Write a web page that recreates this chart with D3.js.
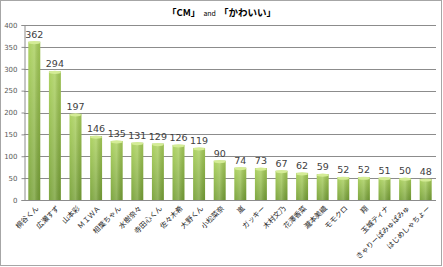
<!DOCTYPE html>
<html>
<head>
<meta charset="utf-8">
<script src="https://cdn.jsdelivr.net/npm/d3@7"></script>
<style>
  body { margin: 0; background: #fff; }
  svg { display: block; font-family: "Noto Sans CJK JP", "DejaVu Sans", sans-serif; }
</style>
</head>
<body>
<div id="chart"></div>
<script>
// data
const names = ['桐谷くん', '広瀬すず', '山本彩', 'ＭＩＷＡ', '相葉ちゃん', '水樹奈々', '寺田心くん',
  '佐々木希', '大野くん', '小松菜奈', '嵐', 'ガッキー', '木村文乃', '花澤香菜', '瀧本美織',
  'モモクロ', '翔', '玉城ティナ', 'きゃりーぱみゅぱみゅ', 'はじめしゃちょー'];
const counts = [362, 294, 197, 146, 135, 131, 129, 126, 119, 90, 74, 73, 67, 62, 59, 52, 52, 51, 50, 48];
const yTicks = [0, 50, 100, 150, 200, 250, 300, 350, 400];

const W = 443, H = 267;
const m = { top: 25, right: 7, bottom: 67, left: 24 };

const svg = d3.select('#chart').append('svg').attr('width', W).attr('height', H);

// outer frame
svg.append('rect').attr('x', 0.5).attr('y', 0.5).attr('width', W - 2).attr('height', H - 2)
  .attr('fill', '#fff').attr('stroke', '#a6a6a6');

const defs = svg.append('defs');
const grad = defs.append('linearGradient').attr('id', 'bar').attr('x1', 0).attr('x2', 0).attr('y1', 0).attr('y2', 1);
grad.append('stop').attr('offset', '0%').attr('stop-color', '#a9d05a');
grad.append('stop').attr('offset', '100%').attr('stop-color', '#76a036');
const side = defs.append('linearGradient').attr('id', 'side').attr('x1', 0).attr('x2', 1);
side.append('stop').attr('offset', '0%').attr('stop-color', '#fff').attr('stop-opacity', 0.05);
side.append('stop').attr('offset', '50%').attr('stop-color', '#fff').attr('stop-opacity', 0.2);
side.append('stop').attr('offset', '100%').attr('stop-color', '#000').attr('stop-opacity', 0.08);

const x = d3.scaleBand().domain(names).range([m.left, W - m.right]).paddingInner(0.42).paddingOuter(0.21);
const y = d3.scaleLinear().domain([0, 400]).range([H - m.bottom, m.top]);

// grid
svg.append('g').selectAll('line').data(yTicks.filter(d => d > 0)).join('line')
  .attr('x1', m.left).attr('x2', W - m.right)
  .attr('y1', d => Math.round(y(d)) + 0.5).attr('y2', d => Math.round(y(d)) + 0.5)
  .attr('stroke', '#8c8c8c');

// y axis
const yAxis = svg.append('g').attr('transform', `translate(${m.left + 0.5},0)`)
  .call(d3.axisLeft(y).tickValues(yTicks).tickSize(3).tickPadding(4));
yAxis.select('.domain').attr('stroke', '#8c8c8c');
yAxis.selectAll('.tick line').attr('stroke', '#8c8c8c');
yAxis.selectAll('text').attr('font-size', 7).attr('fill', '#595959').attr('font-family', 'DejaVu Sans');

// bars
const bars = svg.append('g').selectAll('g').data(names).join('g');
bars.append('rect')
  .attr('x', d => x(d)).attr('width', x.bandwidth())
  .attr('y', (d, i) => y(counts[i])).attr('height', (d, i) => y(0) - y(counts[i]))
  .attr('fill', 'url(#bar)');
bars.append('rect')
  .attr('x', d => x(d)).attr('width', x.bandwidth())
  .attr('y', (d, i) => y(counts[i])).attr('height', (d, i) => y(0) - y(counts[i]))
  .attr('fill', 'url(#side)');
bars.append('ellipse')
  .attr('cx', d => x(d) + x.bandwidth() / 2).attr('rx', x.bandwidth() / 2)
  .attr('cy', (d, i) => y(counts[i]) + 1).attr('ry', 1.6)
  .attr('fill', '#d4ec96');

// x axis line
svg.append('line').attr('x1', m.left).attr('x2', W - m.right)
  .attr('y1', y(0) + 0.5).attr('y2', y(0) + 0.5).attr('stroke', '#8c8c8c');

// value labels
svg.append('g').selectAll('text').data(names).join('text')
  .attr('x', d => x(d) + x.bandwidth() / 2)
  .attr('y', (d, i) => y(counts[i]) - 4)
  .attr('text-anchor', 'middle').attr('font-size', 9.5).attr('fill', '#404040')
  .attr('font-family', 'DejaVu Sans')
  .text((d, i) => counts[i]);

// category labels
svg.append('g').selectAll('text').data(names).join('text')
  .attr('transform', d => `translate(${x(d) + x.bandwidth() / 2 + 3},${y(0) + 7}) rotate(-45)`)
  .attr('text-anchor', 'end').attr('dy', '0.35em')
  .attr('font-size', 7.2).attr('fill', '#262626')
  .text(d => d);

// title
const title = svg.append('text').attr('x', W / 2).attr('y', 16).attr('text-anchor', 'middle')
  .attr('fill', '#000');
title.append('tspan').attr('font-weight', 'bold').attr('font-size', 9.5).text('「CM」');
title.append('tspan').attr('font-size', 7).attr('dx', 3).text('and');
title.append('tspan').attr('font-weight', 'bold').attr('font-size', 9.5).attr('dx', 3).text('「かわいい」');
</script>
</body>
</html>
